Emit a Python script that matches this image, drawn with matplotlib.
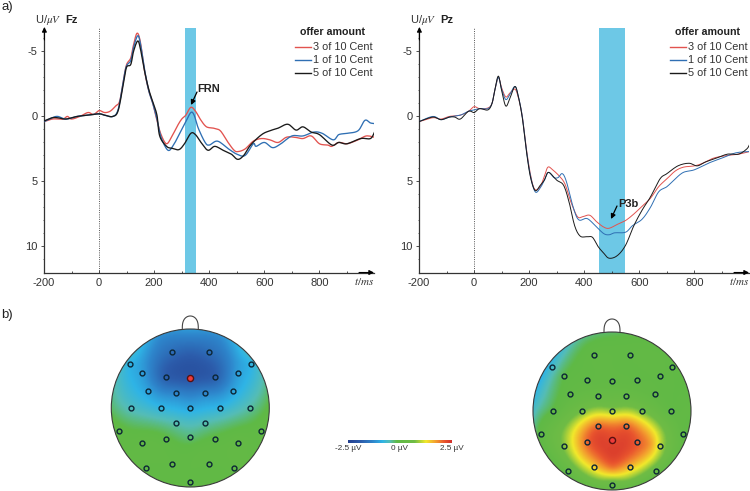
import numpy as np
import matplotlib
matplotlib.use('Agg')
import matplotlib.pyplot as plt
from matplotlib.colors import LinearSegmentedColormap
from matplotlib.patches import Circle, FancyArrowPatch

plt.rcParams['font.family'] = ['Liberation Sans', 'DejaVu Sans']
plt.rcParams['mathtext.fontset'] = 'stix'
plt.rcParams['axes.unicode_minus'] = False

W, H = 750, 491
RED, BLUE, BLACK = '#e2534f', '#2f6fb3', '#1a1a1a'
BAND = '#6dc8e6'
legend_labels = ['3 of 10 Cent', '1 of 10 Cent', '5 of 10 Cent']
xticks = [-200, 0, 200, 400, 600, 800]
yticks = [-5, 0, 5, 10]

# ---------- Fz ----------
fz_red_t = [-200,-170,-150,-130,-115,-100,-70,-40,-20,0,20,40,60,75,90,100,115,125,138,150,165,180,195,210,225,245,265,285,300,315,333,350,370,390,415,440,465,490,505,530,560,590,620,650,680,710,740,770,800,830,845,870,900,940,970,1000]
fz_red_v = [.4,.2,.2,.2,0,.2,0,-.3,-.15,-.45,-.3,-.4,-.8,-1.2,-3,-4,-4.5,-5.5,-6.4,-5.7,-3.5,-2,-1,.3,1.4,2.1,1.5,.7,.2,-.1,-.7,-.4,.3,.8,.9,1.1,1.9,2.6,2.7,2.5,1.9,1.7,1.8,2,1.6,1.6,1.7,1.5,2.1,2.2,2.3,2,2.1,1.8,1.5,1.6]
fz_blue_t = [-200,-170,-150,-120,-80,-40,0,20,50,70,90,100,115,125,140,150,165,180,195,210,225,250,270,290,315,333,345,360,385,400,430,470,500,530,560,570,600,630,660,700,740,780,810,850,870,900,940,965,985,1000]
fz_blue_v = [.4,.1,0,.2,0,-.1,-.2,-.1,0,-.6,-3,-3.9,-4.3,-5.3,-6.2,-5.6,-3.6,-2,-1,.2,1.6,2.6,2.2,1.4,.4,-.3,-.1,.9,2,2.2,1.9,2.5,2.9,3,2.1,2.3,2,2.4,2.1,1.5,1.5,1.2,1.3,1.8,1.4,1.3,1.1,.3,.5,.55]
fz_black_t = [-200,-170,-150,-120,-80,-40,0,20,50,70,90,100,115,125,140,150,165,180,195,210,220,245,265,290,310,333,350,370,395,420,450,480,503,525,550,590,620,650,685,715,740,770,800,845,870,900,950,985,1000]
fz_black_v = [.35,.1,.1,.2,0,-.1,-.2,-.1,0,-.5,-2.8,-3.8,-4,-5,-5.8,-5.2,-3.5,-2.1,-1.1,-.1,1.5,2.3,2.45,2.55,2.1,1.3,1.4,2,2.6,2.3,2.6,2.9,3.3,3,2.2,1.4,1.1,.9,.6,1.05,.8,1.2,1.4,2.2,2,2.1,1.7,1.7,1.2]

# ---------- Pz ----------
pz_red_t = [-200,-150,-120,-90,-50,-20,0,20,50,65,75,88,100,115,130,148,160,175,190,205,220,240,255,268,285,310,330,350,375,395,420,445,470,490,520,550,580,610,640,670,700,730,760,800,830,870,920,960,1000]
pz_red_v = [.4,.1,.2,0,-.1,-.4,-.75,-.6,-.65,-1,-2,-3,-2.2,-1.5,-1.8,-2.1,-1.5,0,2.5,4.5,5.6,5.4,4.6,3.9,4.1,4.6,5.2,6.5,7.7,7.7,7.6,8.1,8.5,8.6,8.3,8,7.5,6.9,6.3,5.4,4.8,4.2,3.9,3.8,3.6,3.2,3,2.9,2.7]
pz_blue_t = [-200,-150,-120,-90,-50,-20,0,20,50,65,75,88,100,115,130,148,160,175,190,205,222,240,255,270,290,305,320,335,360,380,410,440,470,490,510,550,575,610,640,670,700,730,760,800,850,900,950,1000]
pz_blue_v = [.4,0,.25,.05,-.1,-.4,-.5,-.6,-.6,-1,-2,-3,-2.1,-1.3,-1.7,-2.3,-1.6,0,2.6,4.6,5.8,5.5,4.9,4.3,4.7,4.7,4.4,5,7,7.95,7.85,8.4,9,9.1,8.95,8.9,8.4,7.9,7,5.8,5.4,4.8,4.3,4.1,3.6,3.2,2.8,2.7]
pz_black_t = [-200,-150,-120,-90,-70,-50,-20,0,20,50,65,75,88,100,115,130,148,160,175,190,205,222,240,255,270,300,325,345,365,385,410,430,450,470,490,520,550,580,610,640,675,700,740,780,810,840,880,920,960,990,1000]
pz_black_v = [.4,.05,.25,.05,.05,.2,-.4,-.3,-.6,-.5,-1,-2,-3.1,-2,-.8,-1.4,-2.3,-1.6,.1,2.7,4.7,5.7,5.3,4.9,4.3,4.9,5.3,6.6,8.4,9.2,9.25,9.3,10,10.5,10.9,10.7,9.9,8.4,7.2,6.2,4.8,4.4,3.8,3.6,3.8,3.5,3.2,2.9,2.9,2.5,2.15]

fig = plt.figure(figsize=(W/100, H/100), dpi=100)


def px_axes(x0, y0, x1, y1, **kw):
    return fig.add_axes([x0/W, 1-y1/H, (x1-x0)/W, (y1-y0)/H], **kw)


def smooth(t, v, n=8):
    """Draw-time Catmull-Rom rounding of the corners between read points."""
    t, v = np.asarray(t, float), np.asarray(v, float)
    P = np.column_stack([t, v])
    P = np.vstack([P[0], P, P[-1]])
    out = []
    u = np.linspace(0, 1, n, endpoint=False)[:, None]
    for i in range(1, len(P)-2):
        a, b, c, d = P[i-1], P[i], P[i+1], P[i+2]
        out.append(0.5*(2*b+(c-a)*u+(2*a-5*b+4*c-d)*u**2+(3*b-a-3*c+d)*u**3))
    out.append(P[-1:])
    out = np.vstack(out)
    return out[:, 0], out[:, 1]


def erp(x_left, name, band, series, peak, peak_xy, tip_xy, lw):
    ax = px_axes(x_left, 28, x_left+330, 272.5)
    ax.set_xlim(-200, 998)
    ax.set_ylim(12, -6.8)
    ax.patch.set_alpha(0)
    ax.axvspan(*band, color=BAND, lw=0, zorder=1)
    ax.axvline(0, color='#555555', lw=0.7, ls=(0, (1, 1.3)), zorder=1)
    for (t, v), c in zip(series, [RED, BLUE, BLACK]):
        ax.plot(*smooth(t, v), color=c, lw=lw, zorder=3, solid_joinstyle='round')
    for s in ['top', 'right']:
        ax.spines[s].set_visible(False)
    for s in ['left', 'bottom']:
        ax.spines[s].set_linewidth(0.9)
        ax.spines[s].set_color('#333333')
    ax.set_xticks(xticks)
    ax.set_yticks(yticks)
    ax.set_xticks(np.arange(-200, 1000, 100), minor=True)
    ax.set_yticks(np.arange(-6, 12, 1), minor=True)
    ax.tick_params(axis='both', which='major', labelsize=8, colors='#333333', labelcolor='#333333')
    ax.tick_params(axis='y', which='major', length=2.5, width=0.6, pad=2)
    ax.tick_params(axis='y', which='minor', length=1.0, width=0.5, color='#333333')
    ax.tick_params(axis='x', which='major', direction='in', length=2, width=0.6, pad=4)
    ax.tick_params(axis='x', which='minor', direction='in', length=1.5, width=0.6, color='#333333')
    ax.annotate('', xy=(x_left+0.4, 1-27/H), xycoords=('figure pixels', 'figure fraction'), xytext=(x_left+0.4, 1-40/H), textcoords=('figure pixels', 'figure fraction'),
                arrowprops=dict(arrowstyle='-|>', color='black', lw=0.8, mutation_scale=7, shrinkA=0, shrinkB=0))
    ax.annotate('', xy=(x_left+330, 1-272.5/H), xycoords=('figure pixels', 'figure fraction'), xytext=(x_left+315, 1-272.5/H), textcoords=('figure pixels', 'figure fraction'),
                arrowprops=dict(arrowstyle='-|>', color='black', lw=0.8, mutation_scale=7, shrinkA=0, shrinkB=0))

    def T(x, y, s, **kw):
        fig.text(x/W, 1-y/H, s, **kw)
    T(x_left-9, 20.5, r'U/$\mu V$', fontsize=8, va='center', ha='left', color='#333333')
    T(x_left+21, 20.5, name, fontsize=8, va='center', ha='left', weight='bold', color='#222222')
    T(x_left+256, 32, 'offer amount', fontsize=7.7, va='center', ha='left', weight='bold', color='#222222')
    for i, (lab, c) in enumerate(zip(legend_labels, [RED, BLUE, BLACK])):
        y = 47 + 13*i
        fig.add_artist(plt.Line2D([(x_left+251)/W, (x_left+266.5)/W], [1-y/H]*2, color=c, lw=1.0))
        T(x_left+269, y, lab, fontsize=7.8, va='center', ha='left', color='#333333')
    T(x_left+320, 281.5, r'$t/ms$', fontsize=8, va='center', ha='center', color='#333333')
    T(peak_xy[0], peak_xy[1], peak, fontsize=8, va='center', ha='left', weight='bold', color='#222222')
    fig.add_artist(FancyArrowPatch(tip_xy[0], tip_xy[1], transform=None, arrowstyle='-|>', mutation_scale=7, color='black', lw=0.9, shrinkA=0, shrinkB=0))
    return ax


erp(44, 'Fz', (312, 351), [(fz_red_t, fz_red_v), (fz_blue_t, fz_blue_v), (fz_black_t, fz_black_v)],
    'FRN', (197.5, 89), ((197, H-92), (191, H-105)), 0.95)
erp(419, 'Pz', (454, 549), [(pz_red_t, pz_red_v), (pz_blue_t, pz_blue_v), (pz_black_t, pz_black_v)],
    'P3b', (618, 204), ((617, H-206), (611, H-219)), 0.7)

fig.text(1/W, 1-7/H, 'a)', fontsize=9.5, va='center', color='#222222')
fig.text(1/W, 1-315/H, 'b)', fontsize=9.5, va='center', color='#222222')

# ---------- topographies ----------
cmap = LinearSegmentedColormap.from_list('topo', [
    (0.0, '#24408f'), (0.12, '#2c5cab'), (0.24, '#2e86cc'), (0.33, '#2fb4e6'), (0.40, '#55bdb5'), (0.47, '#5fb946'),
    (0.64, '#6fbc45'), (0.75, '#f2e92b'), (0.85, '#f39a2f'), (0.93, '#e9552e'), (1.0, '#d2302c')])

elec_x = np.array([-55,55,-181,181,-144,144,-74,0,75,-127,-43,43,128,-178,-89,0,89,178,-43,43,-213,213,-144,-74,0,75,144,-132,-55,55,132,0,
                   0,-90,90,-168,168,-237,237,-205,205,-120,120,0,-60,60,0,0,30,-105,115])/237
elec_y = np.array([-169,-169,-132,-132,-105,-105,-93,-90,-93,-50,-44,-44,-50,0,0,0,0,0,44,44,68,68,104,92,88,92,104,181,169,169,181,221,
                   -237,-218,-218,-168,-168,0,0,118,118,205,205,237,232,232,-150,170,130,100,100])/237
n_real = 32
left_vals = np.array([-1.65,-1.65,-.85,-.85,-1.05,-1.05,-1.85,-2.0,-1.85,-1.0,-1.3,-1.3,-1.0,-.55,-.8,-.95,-.8,-.45,-.5,-.5,-.05,0,.02,-.1,-.3,-.1,.1,0,0,0,.05,0,
                      -1.1,-1.2,-1.2,-.7,-.7,-.25,-.1,0,0,0,0,0,0,0,-1.95,0,0,0,0])
right_vals = np.array([0,0,-.65,-.05,-.15,0,0,.05,0,.05,.3,.3,.05,-.1,.7,.9,.7,0,2.0,2.0,0,0,.8,2.05,2.25,2.1,1.0,.2,1.4,1.5,.3,.4,
                       -.25,-.35,-.1,-.75,-.05,-.6,0,-.1,.05,0,0,.2,.1,.1,0,1.95,2.25,1.5,1.7])


def rbf_field(vals, xx, yy):
    d = np.hypot(elec_x[:, None]-elec_x[None, :], elec_y[:, None]-elec_y[None, :])
    eps = 1e-9
    K = d**2*np.log(d+eps)
    w = np.linalg.solve(K+1e-3*np.eye(len(vals)), vals)
    pts = np.hypot(xx[..., None]-elec_x, yy[..., None]-elec_y)
    return (pts**2*np.log(pts+eps)*w).sum(-1)


def topo(cx, cy, vals, ref_y, r=79):
    ax = px_axes(cx-r-4, cy-r-22, cx+r+4, cy+r+4)
    g = np.linspace(-1, 1, 220)
    xx, yy = np.meshgrid(g, g)
    zz = rbf_field(vals, xx, yy)
    ax.axis('off')
    im = ax.imshow(zz, extent=[cx-r, cx+r, cy+r, cy-r], cmap=cmap, vmin=-2.5, vmax=2.5, interpolation='bilinear', zorder=1)
    im.set_clip_path(Circle((cx, cy), r, transform=ax.transData))
    ax.set_xlim(cx-r-4, cx+r+4)
    ax.set_ylim(cy+r+4, cy-r-22)
    ax.add_patch(Circle((cx, cy), r, fill=False, ec='#3a3a3a', lw=0.8, zorder=2))
    th = np.linspace(0, np.pi, 40)
    ax.plot(cx+8*np.cos(th), cy-r-13*np.sin(th)**0.7, color='#444444', lw=0.8, zorder=2)
    for ex, ey in zip(elec_x[:n_real], elec_y[:n_real]):
        is_ref = abs(ex) < 1e-6 and abs(ey-ref_y) < 1e-6
        ax.plot(cx+ex*r, cy+ey*r, 'o', ms=(4.4 if is_ref else 3.5), mfc=('#ee3b3b' if is_ref else 'none'),
                mec='#0c2636' if not is_ref else '#5a1010', mew=1.0, zorder=3)


topo(190.3, 408, left_vals, -90/237)
topo(612, 411, right_vals, 88/237)

# ---------- colorbar ----------
cb = px_axes(348, 440, 452, 443)
cb.imshow(np.linspace(0, 1, 256)[None, :], cmap=cmap, aspect='auto', extent=[0, 1, 0, 1])
cb.axis('off')
cbar_labels = ['-2.5 µV', '0 µV', '2.5 µV']
for x, s in zip([348, 399.5, 452], cbar_labels):
    fig.text(x/W, 1-448.5/H, s, fontsize=5.9, ha='center', va='center', color='#333333')

fig.savefig('out.png', dpi=100)
